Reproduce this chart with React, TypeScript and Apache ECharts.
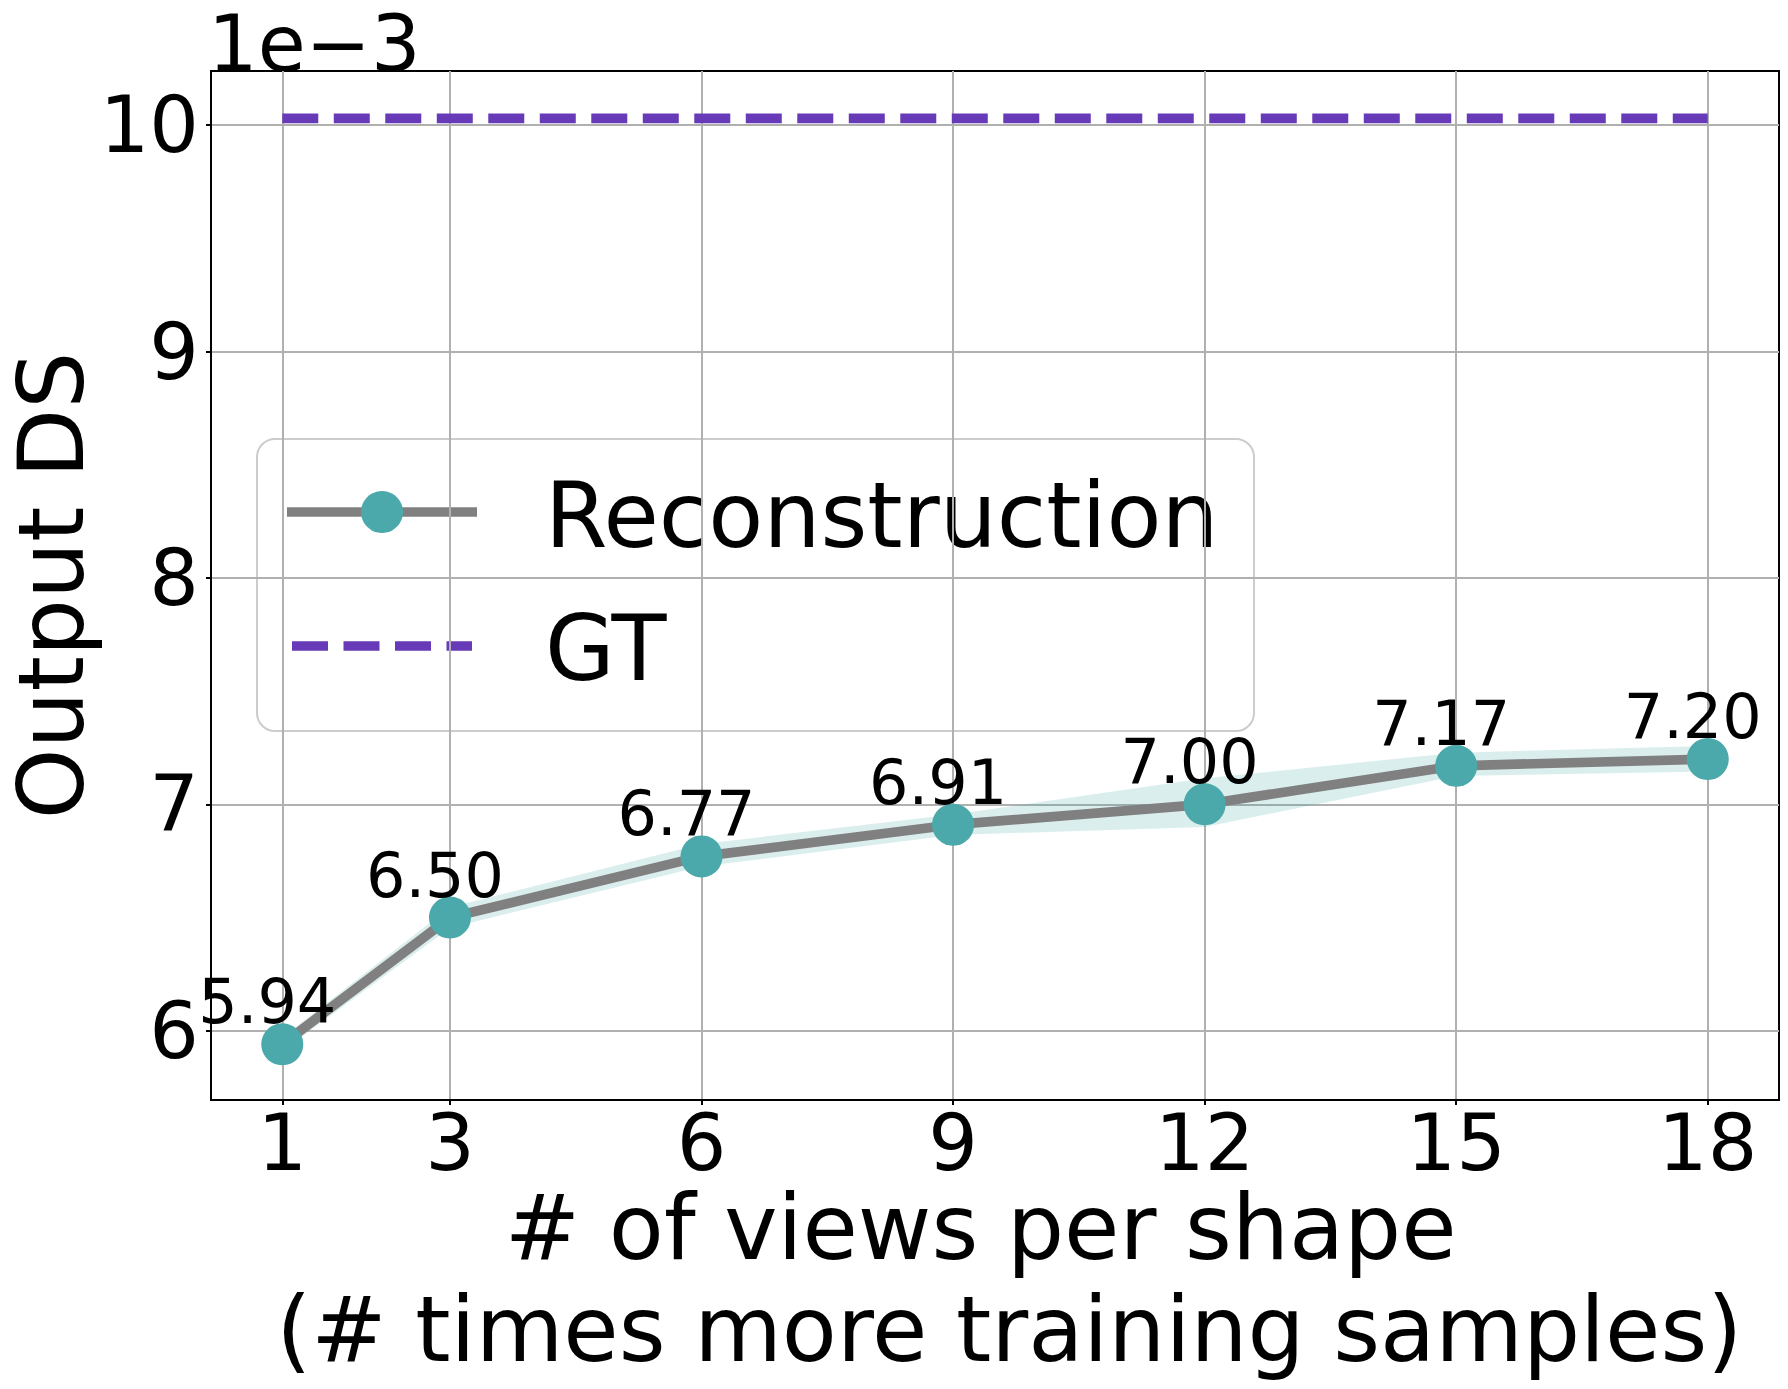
import React, { useEffect, useRef } from "react";
import * as echarts from "echarts";

// ---- data ----
const xValues = [1, 3, 6, 9, 12, 15, 18];
const reconValues = [5.94, 6.5, 6.77, 6.91, 7.0, 7.17, 7.2];
const bandLower = [5.91, 6.455, 6.725, 6.865, 6.9, 7.125, 7.145];
const bandUpper = [5.97, 6.545, 6.825, 6.955, 7.115, 7.228, 7.258];
const gtValue = 10.03;
const gtRange = [1, 18];
const xTicks = [1, 3, 6, 9, 12, 15, 18];
const yTicks = [6, 7, 8, 9, 10];
const seriesNames = ["Reconstruction", "GT"];
const xTitle = "# of views per shape \n (# times more training samples)";
const yTitle = "Output DS";
const scaleText = "1e\u22123";

const FONT = '"DejaVu Sans", sans-serif';
const TEAL = "#4ba9ab";
const GRAY = "#808080";
const PURPLE = "#673ab7";

export default function App() {
  const ref = useRef<HTMLDivElement>(null);

  useEffect(() => {
    document.body.style.margin = "0";
    if (!ref.current) return;
    const chart = echarts.init(ref.current, null, { renderer: "svg" });

    const option: any = {
      animation: false,
      backgroundColor: "#ffffff",
      textStyle: { fontFamily: FONT },
      grid: {
        left: 211,
        right: 9,
        top: 71,
        bottom: 289,
        show: true,
        borderColor: "#000000",
        borderWidth: 2,
        backgroundColor: "transparent",
        containLabel: false,
        outerBoundsMode: "none",
      },
      xAxis: {
        type: "value",
        min: 0.15,
        max: 18.85,
        axisLine: { show: true, onZero: false, lineStyle: { color: "#000", width: 2 } },
        axisTick: {
          show: true,
          customValues: xTicks,
          length: 5,
          lineStyle: { color: "#000", width: 2 },
        },
        axisLabel: {
          customValues: xTicks,
          fontSize: 78,
          lineHeight: 60,
          color: "#000",
          fontFamily: FONT,
          margin: 13,
        },
        splitLine: { show: true, lineStyle: { color: "#b0b0b0", width: 2 } },
        name: xTitle,
        nameLocation: "middle",
        nameGap: 76,
        nameMoveOverlap: false,
        nameTextStyle: { fontSize: 90, lineHeight: 102, color: "#000", fontFamily: FONT },
      },
      yAxis: {
        type: "value",
        min: 5.694,
        max: 10.239,
        axisLine: { show: true, onZero: false, lineStyle: { color: "#000", width: 2 } },
        axisTick: {
          show: true,
          customValues: yTicks,
          length: 5,
          lineStyle: { color: "#000", width: 2 },
        },
        axisLabel: {
          customValues: yTicks,
          fontSize: 78,
          color: "#000",
          fontFamily: FONT,
          margin: 12,
        },
        splitLine: { show: true, lineStyle: { color: "#b0b0b0", width: 2 } },
        name: yTitle,
        nameLocation: "middle",
        nameGap: 115,
        nameMoveOverlap: false,
        nameTextStyle: { fontSize: 90, color: "#000", fontFamily: FONT },
      },
      series: [
        {
          name: "band",
          type: "custom",
          data: xValues.map((x, i) => [x, bandLower[i], bandUpper[i]]),
          encode: { x: 0, y: [1, 2] },
          silent: true,
          z: 1,
          renderItem: (params: any, api: any) => {
            if (params.dataIndex !== 0) return null;
            const pts: number[][] = [];
            for (let i = 0; i < xValues.length; i++) {
              pts.push(api.coord([xValues[i], bandUpper[i]]));
            }
            for (let i = xValues.length - 1; i >= 0; i--) {
              pts.push(api.coord([xValues[i], bandLower[i]]));
            }
            return {
              type: "polygon",
              shape: { points: pts },
              style: { fill: "rgba(75,169,171,0.2)", stroke: "none" },
            };
          },
        },
        {
          name: seriesNames[0],
          type: "line",
          data: xValues.map((x, i) => [x, reconValues[i]]),
          symbol: "circle",
          symbolSize: 42,
          itemStyle: { color: TEAL, borderWidth: 0 },
          lineStyle: { color: GRAY, width: 9.7 },
          label: {
            show: true,
            position: "top",
            distance: 0,
            offset: [-15, 9.5],
            fontSize: 62,
            color: "#000",
            fontFamily: FONT,
            formatter: (p: any) => Number(p.value[1]).toFixed(2),
          },
          z: 3,
        },
        {
          name: seriesNames[1],
          type: "line",
          data: gtRange.map((x) => [x, gtValue]),
          symbol: "none",
          lineStyle: { color: PURPLE, width: 9.7, type: [36, 15.5], cap: "butt" },
          z: 4,
        },
      ],
      graphic: [
        {
          type: "text",
          x: 208,
          y: 44,
          style: {
            text: scaleText,
            fontSize: 78,
            fontFamily: FONT,
            fill: "#000",
            textAlign: "left",
            textVerticalAlign: "middle",
          },
        },
        {
          type: "group",
          z: 100,
          children: [
            {
              type: "rect",
              shape: { x: 257, y: 439, width: 997, height: 292, r: 18 },
              style: { fill: "rgba(255,255,255,0.8)", stroke: "#cccccc", lineWidth: 2 },
            },
            {
              type: "line",
              shape: { x1: 287, y1: 512, x2: 477, y2: 512 },
              style: { stroke: GRAY, lineWidth: 9.7 },
            },
            {
              type: "circle",
              shape: { cx: 382, cy: 512, r: 21 },
              style: { fill: TEAL },
            },
            {
              type: "line",
              shape: { x1: 292, y1: 646, x2: 472, y2: 646 },
              style: { stroke: PURPLE, lineWidth: 9.7, lineDash: [36, 15.5], lineCap: "butt" },
            },
            {
              type: "text",
              x: 545,
              y: 515.5,
              style: {
                text: seriesNames[0],
                fontSize: 90,
                fontFamily: FONT,
                fill: "#000",
                textAlign: "left",
                textVerticalAlign: "middle",
              },
            },
            {
              type: "text",
              x: 545,
              y: 648,
              style: {
                text: seriesNames[1],
                fontSize: 90,
                fontFamily: FONT,
                fill: "#000",
                textAlign: "left",
                textVerticalAlign: "middle",
              },
            },
          ],
        },
      ],
    };

    chart.setOption(option);
    return () => {
      chart.dispose();
    };
  }, []);

  return <div ref={ref} style={{ width: 1788, height: 1389 }} />;
}
